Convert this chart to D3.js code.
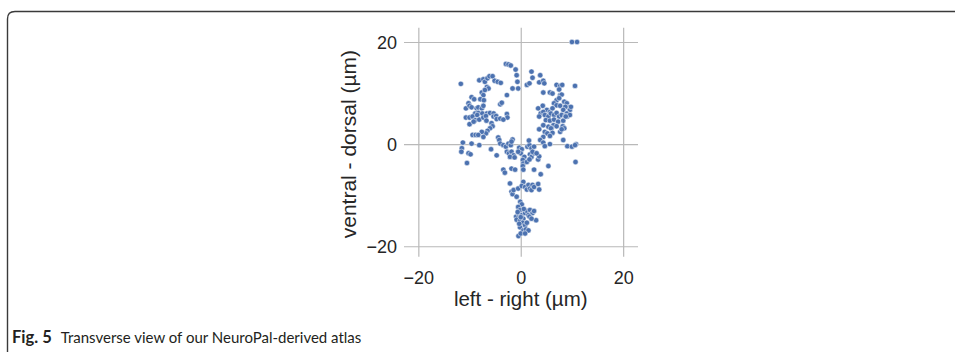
<!DOCTYPE html>
<html>
<head>
<meta charset="utf-8">
<script src="https://cdn.jsdelivr.net/npm/d3@7"></script>
<style>
  html, body { margin: 0; padding: 0; background: #fff; }
  svg { display: block; }
</style>
</head>
<body>
<svg id="chart" width="955" height="352"></svg>
<script>
// ---- data (µm) ----
const xTicks = [-20, 0, 20];
const yTicks = [-20, 0, 20];
const xLabel = "left - right (µm)";
const yLabel = "ventral - dorsal (µm)";
const captionBold = "Fig. 5";
const captionText = "Transverse view of our NeuroPal-derived atlas";

// [left-right, ventral-dorsal]
const points = [
  [10,20],[11,20],
  [-2.9,15.7],[-2.4,15.6],[-1.95,15.4],[-1.0,14.6],[-0.8,13.5],[-0.65,12.2],[-1.6,10.9],[-0.5,10.9],[-2.7,9.6],
  [2.1,14.2],[2.3,13.0],[1.2,11.6],[1.7,11.9],[3.8,13.5],[3.6,12.1],[4.4,12.4],[4.6,11.9],[4.4,10.1],
  [-11.7,11.8],[-8.1,12.5],[-7.3,12.7],[-7.0,12.2],[-6.5,12.9],[-6.1,13.3],[-5.5,13.3],[-5.1,12.4],[-4.5,12.2],[-3.9,12.0],
  [-6.6,11.2],[-6.3,10.9],[-7.6,10.1],[-7.3,9.6],[-7.0,10.6],[-7.9,8.8],[-7.2,8.6],[-9.6,9.2],[-9.1,8.8],[-10.2,8.0],
  [-10.7,7.0],[-10.0,7.5],[-9.6,7.2],[-8.6,7.0],[-8.3,7.2],[-7.6,7.0],[-7.3,7.5],[-8.9,6.0],[-8.3,6.1],[-7.5,6.0],
  [-6.6,6.0],[-6.0,6.1],[-5.3,6.0],[-4.0,7.8],[-3.7,8.1],
  [-10.7,5.2],[-10.0,5.2],[-9.4,5.4],[-8.9,4.7],[-8.5,5.7],[-8.1,4.8],[-10.0,3.9],[-9.2,4.4],[-7.3,5.2],[-6.8,5.5],[-6.7,4.6],
  [-5.3,5.4],[-4.8,5.5],[-4.7,4.9],[-4.0,5.0],[-2.7,5.9],[-2.6,5.2],[-3.4,4.8],[-5.7,4.1],[-5.5,3.5],[-6.0,3.1],
  [-6.5,2.6],[-6.8,2.1],[-7.6,2.4],[-9.4,1.8],[-8.8,1.8],[-8.3,1.8],[-7.3,1.4],
  [-11.3,0.3],[-9.6,0.1],[-8.1,-0.2],[-11.5,-0.8],[-11.6,-1.5],[-10.2,-1.8],[-9.8,-2.0],[-10.5,-3.7],[-5.8,-1.0],
  [-4.7,-2.2],[-4.4,1.3],[-4.2,0.8],[-4.0,0.1],
  [-3.4,-0.2],[-2.9,-0.5],[-2.4,0.1],[-1.95,-0.2],[-1.6,0.9],[-1.8,0.5],[-2.7,-1.5],[-2.3,-1.8],[-1.8,-1.5],[-1.4,-2.2],
  [-2.1,-2.5],[-1.2,-2.6],[-0.3,-0.7],[0.2,-1.0],[0,-1.8],[-0.5,-1.5],[0.7,-2.5],[0.4,-3.1],[0.5,-3.8],[1.3,-0.5],
  [1.7,-0.2],[2.1,-0.8],[2.6,-0.5],[1.6,0.7],[1.8,-2.0],[2.1,-2.5],[2.6,-1.8],[2.3,-1.5],[1.2,-3.5],[1.7,-3.0],
  [3.4,-3.0],[3.6,-2.4],[3.1,-1.8],
  [-3.4,-5.0],[-3.1,-5.6],[-1.8,-4.8],[-1.1,-5.0],[0.4,-4.3],[0.5,-5.0],[2.6,-5.0],[3.9,-5.9],[5.4,-4.3],
  [-2.1,-7.7],[-1.8,-9.3],[-1.6,-9.8],[-1.4,-9.0],[-0.8,-10.3],[-0.5,-8.7],[0.5,-7.4],[0.2,-8.2],[0.85,-8.4],[1.2,-8.9],
  [1.5,-8.0],[1.8,-8.7],[2.1,-9.0],[2.3,-8.0],[2.6,-8.4],[3.4,-7.8],[3.6,-8.9],[-0.1,-11.3],[0.2,-11.8],[-0.5,-12.3],
  [-0.9,-14.2],[-0.45,-13.6],[-0.13,-12.9],[0.2,-13.9],[0.5,-14.6],[0.85,-13.5],[1.2,-13.1],[1.5,-13.9],[1.8,-12.9],[2.3,-13.5],
  [2.6,-13.1],[3.0,-14.9],[-0.8,-14.8],[-0.13,-15.0],[0.4,-15.4],[0.85,-15.9],[1.2,-15.4],[1.7,-14.2],[2.1,-14.6],[-0.13,-16.3],
  [0.5,-16.9],[1.0,-16.7],[1.5,-16.9],[-0.45,-18.0],[0,-17.5],[0.85,-17.5],[-0.6,-13.3],[0,-14.3],[0.6,-12.7],[-0.3,-15.6],
  [10.6,11.4],[7.0,11.6],[7.7,11.4],[8.1,11.6],[7.5,10.7],[5.7,10.1],[6.2,9.9],[7.7,9.6],[8.0,9.7],[7.0,8.6],
  [7.5,9.0],[6.5,8.0],[7.0,7.6],[7.7,7.5],[8.5,8.3],[9.0,8.0],[9.3,7.2],[9.6,6.7],[9.8,7.3],[8.7,7.3],
  [8.3,6.7],[9.0,6.0],[4.3,7.5],[5.1,6.7],[5.7,6.3],[6.2,7.0],[3.4,7.0],[3.9,6.0],[4.4,6.3],[3.6,5.4],
  [4.7,5.7],[5.4,5.4],[5.9,6.0],[6.5,5.7],[7.0,6.1],[7.5,5.4],[8.0,5.7],[8.7,5.5],[9.1,5.4],[9.6,5.7],
  [4.9,4.7],[5.7,4.6],[6.5,4.8],[7.3,4.4],[6.4,3.7],[7.0,3.5],[6.0,3.1],[5.4,3.4],[4.4,3.7],[8.3,4.6],
  [8.8,5.4],[8.2,3.5],[8.5,3.1],[7.7,2.4],[8.0,2.9],[5.9,3.1],[6.2,2.2],[4.7,2.4],[5.2,2.1],[3.6,2.9],
  [4.4,1.4],[5.7,1.6],[3.8,0.8],[4.4,0.3],[5.7,0],[4.7,-0.4],[8.3,0.8],[9.1,-0.4],[10.8,0],[10.7,-3.5],
  [10.0,-0.5],[10.6,-0.2]
];

// ---- layout ----
const svg = d3.select("#chart");
const plot = { left: 404, right: 638, top: 27.7, bottom: 256.7 };

const x = d3.scaleLinear().domain([-22.8, 22.9]).range([plot.left, plot.right]);
const y = d3.scaleLinear().domain([-22.05, 22.8]).range([plot.bottom, plot.top]);

// frame (rounded top-left corner)
svg.append("path")
  .attr("d", "M7.5,352 V19 Q7.5,11.5 15,11.5 H955")
  .attr("fill", "none")
  .attr("stroke", "#3a3a3a")
  .attr("stroke-width", 1.4);

// grid via axes
const gridColor = "#b9b9b9";
const fmt = d => d3.format("")(d).replace("-", "\u2212");
const gx = svg.append("g")
  .attr("transform", `translate(0,${plot.bottom})`)
  .call(d3.axisBottom(x).tickValues(xTicks).tickSize(-(plot.bottom - plot.top))
        .tickPadding(10).tickFormat(fmt));
const gy = svg.append("g")
  .attr("transform", `translate(${plot.left},0)`)
  .call(d3.axisLeft(y).tickValues(yTicks).tickSize(-(plot.right - plot.left))
        .tickPadding(7).tickFormat(fmt));

[gx, gy].forEach(g => {
  g.select(".domain").remove();
  g.selectAll(".tick line").attr("stroke", gridColor).attr("stroke-width", 1.2);
  g.selectAll(".tick text")
    .attr("fill", "#262626")
    .style("font-family", "'Liberation Sans', Arial, sans-serif")
    .style("font-size", "18px");
});
gx.selectAll(".tick text").attr("dy", "0.95em");
gy.selectAll(".tick text").attr("x", -7).attr("dy", "0.34em");

// points
svg.append("g")
  .selectAll("circle")
  .data(points)
  .join("circle")
  .attr("cx", d => x(d[0]))
  .attr("cy", d => y(d[1]))
  .attr("r", 2.7)
  .attr("fill", "#4c72b0")
  .attr("stroke", "#ffffff")
  .attr("stroke-width", 0.5);

// axis labels
svg.append("text")
  .attr("x", (x(-20) + x(20)) / 2)
  .attr("y", 306)
  .attr("text-anchor", "middle")
  .attr("fill", "#262626")
  .style("font-family", "'Liberation Sans', Arial, sans-serif")
  .style("font-size", "20.5px")
  .text(xLabel);

svg.append("text")
  .attr("transform", `translate(356,${(y(-20) + y(20)) / 2}) rotate(-90)`)
  .attr("text-anchor", "middle")
  .attr("fill", "#262626")
  .style("font-family", "'Liberation Sans', Arial, sans-serif")
  .style("font-size", "21px")
  .text(yLabel);

// caption
const cap = svg.append("text")
  .attr("x", 12)
  .attr("y", 343)
  .attr("fill", "#231f20")
  .style("font-family", "Lato, 'Open Sans', sans-serif");
cap.append("tspan").attr("font-weight", "bold").style("font-size", "16.5px").text(captionBold);
cap.append("tspan").attr("dx", 9).style("font-size", "15px").text(captionText);
</script>
</body>
</html>
